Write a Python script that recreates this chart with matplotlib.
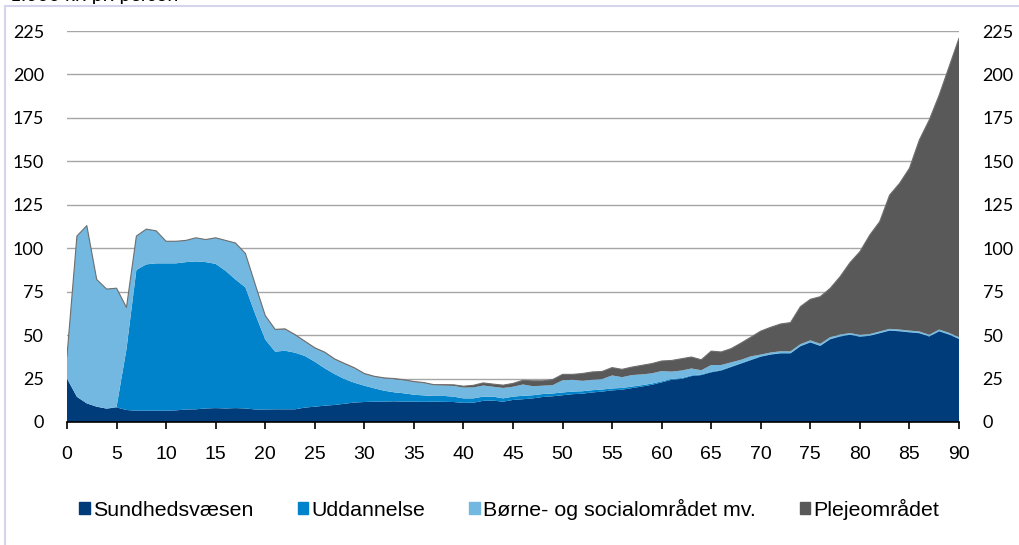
import numpy as np
import matplotlib.pyplot as plt
from matplotlib.patches import Patch, Rectangle

### Donnees ###

alder = list(range(0, 91))

sundhed = [25, 14.5, 10.7, 8.8, 7.7, 8.4, 6.9, 6.5, 6.5, 6.5,
           6.5, 6.7, 7.2, 7.3, 7.8, 8.0, 7.8, 8.0, 7.8, 7.2,
           7.2, 7.3, 7.3, 7.3, 8.3, 8.8, 9.4, 9.8, 10.5, 11.2,
           11.5, 11.7, 11.7, 11.9, 11.7, 11.7, 11.6, 11.7, 11.6, 11.5,
           11.0, 11.1, 12.2, 12.3, 11.7, 12.7, 13.1, 13.6, 14.4, 14.8,
           15.4, 16.0, 16.3, 17.0, 17.5, 18.2, 18.6, 19.5, 20.4, 21.4,
           22.8, 24.3, 24.8, 26.4, 27.0, 28.6, 29.6, 31.6, 33.6, 35.6,
           37.6, 38.8, 39.5, 39.5, 43.6, 45.8, 43.8, 47.6, 49.2, 50.2,
           49.1, 49.6, 51.1, 52.6, 52.2, 51.6, 51.1, 49.2, 52.2, 50.3,
           47.8]

uddannelse = [0, 0, 0, 0, 0, 0.3, 35, 81, 84.2, 84.8,
              84.8, 84.6, 84.8, 85.1, 84.2, 83, 79.2, 74, 69.7, 54.8,
              40.3, 33.2, 33.7, 32.6, 29.7, 25.9, 21.5, 17.8, 14.2, 11.4,
              9.4, 7.7, 6.3, 5.2, 4.8, 4.0, 3.7, 3.3, 3.4, 3.1,
              2.6, 2.5, 2.4, 2.3, 1.9, 1.9, 2.0, 1.8, 1.7, 1.6,
              1.6, 1.5, 1.4, 1.3, 1.2, 1.1, 1.0, 0.9, 0.8, 0.7,
              0.6, 0.5, 0.5, 0.4, 0.4, 0.3, 0.3, 0.3, 0.3, 0.3,
              0.2, 0.2, 0.2, 0.2, 0.2, 0.2, 0.2, 0.2, 0.2, 0.2,
              0.2, 0.2, 0.2, 0.2, 0.2, 0.2, 0.2, 0.2, 0.2, 0.2,
              0.2]

boerne = [13, 92.5, 102.3, 73.2, 68.8, 68.3, 24, 19.5, 20.3, 18.7,
          12.7, 12.7, 12.5, 13.6, 13, 15, 17.5, 21, 19.5, 17,
          13.5, 12.5, 12.3, 10.1, 8.2, 7.7, 9.0, 8.4, 8.7, 8.3,
          6.7, 6.6, 7.1, 7.6, 7.5, 7.3, 7.1, 6.2, 6.0, 6.2,
          6.2, 6.3, 6.4, 5.7, 6.0, 5.7, 6.5, 5.2, 4.8, 4.8,
          7.0, 6.8, 6.0, 6.0, 6.0, 7.5, 6.2, 6.6, 6.2, 5.9,
          5.9, 4.2, 4.3, 4.0, 2.4, 3.9, 2.9, 2.4, 1.9, 1.9,
          1.0, 1.0, 1.0, 1.0, 1.0, 1.0, 1.0, 1.0, 0.9, 0.8,
          0.8, 0.8, 0.8, 0.8, 0.8, 0.8, 0.8, 0.8, 0.8, 0.8,
          0.8]

pleje = [0, 0, 0, 0, 0, 0, 0, 0, 0, 0,
         0, 0, 0, 0, 0, 0, 0, 0, 0, 0,
         0.3, 0.3, 0.3, 0.3, 0.3, 0.3, 0.3, 0.3, 0.3, 0.3,
         0.3, 0.3, 0.3, 0.3, 0.3, 0.3, 0.3, 0.3, 0.5, 0.6,
         0.8, 1.2, 1.5, 1.5, 1.6, 1.9, 2.4, 3.1, 2.8, 3.2,
         3.4, 3.1, 4.2, 4.5, 4.4, 4.5, 4.5, 4.6, 5.2, 5.6,
         5.8, 6.4, 6.8, 6.6, 6.0, 8.0, 7.5, 7.9, 9.6, 11.0,
         13.5, 14.5, 15.7, 16.5, 21.6, 23.6, 27.1, 28.1, 33.3, 40.5,
         47.9, 57, 63.2, 77, 84.1, 93.4, 110.2, 123.6, 134.9, 153.1,
         172]

navne = ["Sundhedsvæsen", "Uddannelse", "Børne- og socialområdet mv.", "Plejeområdet"]
farver = ["#003b7a", "#0083ca", "#72b8e0", "#595959"]

y_ticks = list(range(0, 226, 25))
x_ticks = list(range(0, 91, 5))

### Trace ###

fig = plt.figure(figsize=(10.19, 5.45), dpi=100)
ax = fig.add_axes([67 / 1019, 1 - 422 / 545, (959 - 67) / 1019, (422 - 31) / 545])

ax.stackplot(alder, sundhed, uddannelse, boerne, pleje, colors=farver, linewidth=0)
# fin trait gris sur le bord du haut
total = np.array(sundhed) + np.array(uddannelse) + np.array(boerne) + np.array(pleje)
ax.plot(alder, total, color="#6e6e6e", lw=0.8)

ax.set_xlim(0, 90)
ax.set_ylim(0, 225)
ax.set_xticks(x_ticks)
ax.set_yticks(y_ticks)
ax.grid(axis="y", color="#a6a6a6", lw=1)
ax.set_axisbelow(True)
for s in ["top", "right", "left"]:
    ax.spines[s].set_visible(False)
ax.spines["bottom"].set_color("black")
ax.spines["bottom"].set_linewidth(1.2)
ax.spines["bottom"].set_zorder(5)
ax.tick_params(axis="x", direction="out", length=5, width=1.2, pad=12, labelsize=14)
ax.tick_params(axis="y", length=0, pad=16.5, labelsize=13)
for t in ax.get_xticklabels():
    t.set_family("Liberation Sans")
for t in ax.get_yticklabels():
    t.set_family("Lato")

ax2 = ax.twinx()
ax2.set_ylim(0, 225)
ax2.set_yticks(y_ticks)
for s in ["top", "right", "left", "bottom"]:
    ax2.spines[s].set_visible(False)
ax2.tick_params(axis="y", length=0, pad=17, labelsize=13)
for t in ax2.get_yticklabels():
    t.set_family("Lato")

# legende
handles = [Patch(color=c, label=n) for c, n in zip(farver, navne)]
fig.legend(handles=handles, loc="center", bbox_to_anchor=(0.5, 1 - 509 / 545), ncol=4,
           frameon=False, handlelength=0.5, handleheight=0.5, handletextpad=0.15,
           columnspacing=2.05, prop={"family": "Liberation Sans", "size": 15.4})

# cadre et titre coupe
fig.patches.append(Rectangle((5 / 1019, -0.1), 1.2, 1 - 6 / 545 + 0.1, transform=fig.transFigure,
                             fill=False, edgecolor="#d4d4ec", lw=1.5))
fig.text(10 / 1019, 1 - 1 / 545, "1.000 kr. pr. person", fontsize=14, family="Lato", va="baseline")

fig.savefig("out.png", dpi=100)
